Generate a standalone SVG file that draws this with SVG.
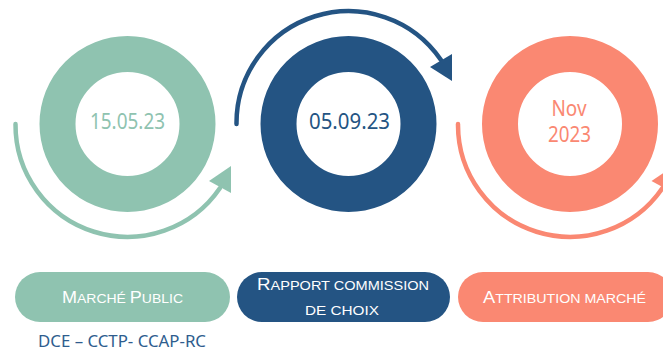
<svg xmlns="http://www.w3.org/2000/svg" width="663" height="352" viewBox="0 0 663 352">
  <style>
    .ring { fill: none; stroke-width: 36; }
    .arc { fill: none; stroke-width: 4.5; stroke-linecap: round; }
    .date { font-family: "Noto Sans", "Liberation Sans", sans-serif; font-size: 21px; text-anchor: middle; }
    .pill { font-family: "Liberation Sans", Arial, sans-serif; font-size: 16.5px; fill: #ffffff; text-anchor: middle; }
    .sc { font-size: 12.8px; }
    .teal { stroke: #8FC3B0; }
    .blue { stroke: #245483; }
    .salmon { stroke: #FA8872; }
  </style>
  <rect width="663" height="352" fill="#ffffff"/>

  <g id="connectors">
    <path class="arc teal" d="M 15.5 124 A 112 112 0 0 0 220 188"/>
    <polygon points="209,181 231,166 231,193" fill="#8FC3B0"/>
    <path class="arc blue" d="M 236.5 124 A 112 112 0 0 1 441 60"/>
    <polygon points="430,67 452,54 452,81" fill="#245483"/>
    <path class="arc salmon" d="M 458 124 A 112 112 0 0 0 662.5 188"/>
    <polygon points="651.5,181 673.5,166 673.5,193" fill="#FA8872"/>
  </g>

  <g id="node-1">
    <circle class="ring teal" cx="127.5" cy="124" r="70"/>
    <text class="date" x="127.5" y="128.5" fill="#8FC3B0" textLength="75" lengthAdjust="spacingAndGlyphs">15.05.23</text>
  </g>
  <g id="node-2">
    <circle class="ring blue" cx="348.5" cy="124" r="70"/>
    <text class="date" x="349.5" y="129" fill="#245483" textLength="81" lengthAdjust="spacingAndGlyphs">05.09.23</text>
  </g>
  <g id="node-3">
    <circle class="ring salmon" cx="570" cy="124" r="70"/>
    <text class="date" x="569" y="116" fill="#FA8872" textLength="35" lengthAdjust="spacingAndGlyphs">Nov</text>
    <text class="date" x="569.5" y="141.5" fill="#FA8872" textLength="43" lengthAdjust="spacingAndGlyphs">2023</text>
  </g>

  <g id="label-1">
    <rect x="15" y="272" width="215" height="50" rx="25" fill="#8FC3B0"/>
    <text class="pill" x="122.5" y="303" textLength="121" lengthAdjust="spacingAndGlyphs">M<tspan class="sc">ARCHÉ </tspan>P<tspan class="sc">UBLIC</tspan></text>
  </g>
  <g id="label-2">
    <rect x="237" y="272" width="213" height="50" rx="25" fill="#245483"/>
    <text class="pill" x="343" y="290" textLength="172" lengthAdjust="spacingAndGlyphs">R<tspan class="sc">APPORT COMMISSION</tspan></text>
    <text class="pill" x="342" y="315" textLength="74" lengthAdjust="spacingAndGlyphs"><tspan class="sc">DE CHOIX</tspan></text>
  </g>
  <g id="label-3">
    <rect x="458" y="272" width="215" height="50" rx="25" fill="#FA8872"/>
    <text class="pill" x="564.5" y="303" textLength="163" lengthAdjust="spacingAndGlyphs">A<tspan class="sc">TTRIBUTION MARCHÉ</tspan></text>
  </g>

  <text x="38" y="347" font-family="'Noto Sans', 'Liberation Sans', sans-serif" font-size="16" fill="#2E5D8E" textLength="168" lengthAdjust="spacingAndGlyphs">DCE – CCTP- CCAP-RC</text>
</svg>
